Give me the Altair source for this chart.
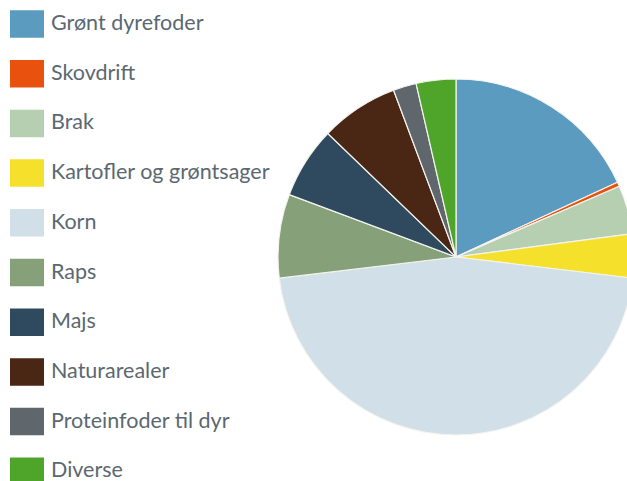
import altair as alt
import pandas as pd

categories = ["Grønt dyrefoder", "Skovdrift", "Brak", "Kartofler og grøntsager", "Korn",
              "Raps", "Majs", "Naturarealer", "Proteinfoder til dyr", "Diverse"]
shares = [18.1, 0.4, 4.4, 4.0, 46.2, 7.6, 6.5, 7.1, 2.1, 3.6]
colors = ["#5a9bbf", "#e8520e", "#b6cfb1", "#f5e02b", "#d1dfe8",
          "#86a07a", "#2f4a5f", "#4a2614", "#5f666c", "#4fa52a"]

df = pd.DataFrame({"kategori": categories, "andel": shares, "rank": list(range(len(categories)))})

chart = alt.Chart(df).mark_arc(stroke="#f4f4ee", strokeWidth=1.2).encode(
    theta=alt.Theta("andel:Q", stack=True),
    order=alt.Order("rank:Q"),
    color=alt.Color(
        "kategori:N",
        scale=alt.Scale(domain=categories, range=colors),
        legend=alt.Legend(
            title=None,
            orient="none",
            legendX=10,
            legendY=7,
            symbolType="M-1,-0.81H1V0.81H-1Z",
            symbolSize=1156,
            symbolStrokeWidth=0,
            symbolOpacity=1,
            labelFont="Lato",
            labelFontSize=21.5,
            labelColor="#5b6870",
            labelOffset=7,
            rowPadding=18.7,
            padding=0,
            labelLimit=400,
        ),
    ),
    x=alt.value(456),
    y=alt.value(257),
    radius=alt.value(178),
).properties(
    width=627, height=481, padding=0, autosize=alt.AutoSizeParams(type="none"),
    background="white",
).configure_view(strokeWidth=0)

chart.save("out.html", embed_options={"renderer": "svg", "actions": False})
